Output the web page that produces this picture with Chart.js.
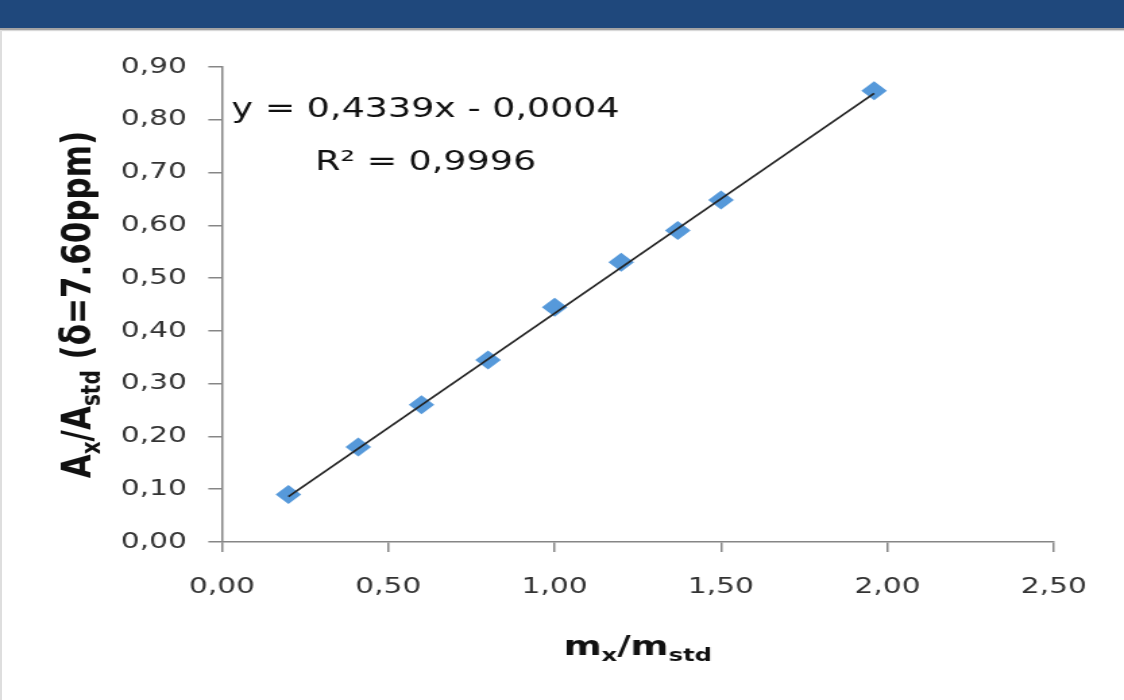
<!DOCTYPE html>
<html>
<head>
<meta charset="utf-8">
<script src="https://cdn.jsdelivr.net/npm/chart.js@4"></script>
<style>
  html, body { margin: 0; padding: 0; background: #fff; overflow: hidden; }
  body { width: 1124px; height: 700px; position: relative; }
  .header {
    position: absolute; left: 0; top: 0; width: 1124px; height: 28px;
    background: #1f487c; border-bottom: 2px solid #a4a4a4;
    box-shadow: 0 1px 1px #d8d8d8; z-index: 2;
  }
  .edge { position: absolute; left: 0; top: 30px; width: 2px; height: 670px; background: #dedede; z-index: 2; }
  /* the picture is stretched sideways, so the chart is drawn narrow and widened */
  .stretch {
    position: absolute; left: 0; top: 0; width: 833px; height: 700px;
    transform: scaleX(1.3493); transform-origin: 0 0;
  }
</style>
</head>
<body>
<div class="header"></div>
<div class="edge"></div>
<div class="stretch"><canvas id="calibChart"></canvas></div>

<script>
// m_x/m_std against A_x/A_std
const mRatio = [0.20, 0.41, 0.60, 0.80, 1.00, 1.20, 1.37, 1.50, 1.96];
const aRatio = [0.09, 0.18, 0.26, 0.345, 0.445, 0.53, 0.59, 0.648, 0.855];

// linear trend line ends
const trendX = [0.20, 1.96];
const trendY = [0.086, 0.850];

const xTickValues = [0, 0.5, 1, 1.5, 2, 2.5];
const xTickLabels = ["0,00", "0,50", "1,00", "1,50", "2,00", "2,50"];
const yTickValues = [0, 0.1, 0.2, 0.3, 0.4, 0.5, 0.6, 0.7, 0.8, 0.9];
const yTickLabels = ["0,00", "0,10", "0,20", "0,30", "0,40", "0,50", "0,60", "0,70", "0,80", "0,90"];

const xTitle = [{ t: "m" }, { t: "x", sub: true }, { t: "/m" }, { t: "std", sub: true }];
const yTitle = [{ t: "A" }, { t: "x", sub: true }, { t: "/A" }, { t: "std", sub: true }, { t: " (δ=7.60ppm)" }];
const equation = ["y = 0,4339x - 0,0004", "R² = 0,9996"];

const FONT = '"DejaVu Sans", Verdana, sans-serif';

function drawRich(ctx, parts, cx, baseY, size, weight) {
  const subSize = Math.round(size * 0.65);
  const fontOf = (p) => weight + " " + (p.sub ? subSize : size) + "px " + FONT;
  let w = 0;
  parts.forEach((p) => {
    ctx.font = fontOf(p);
    w += ctx.measureText(p.t).width;
  });
  let x = cx - w / 2;
  parts.forEach((p) => {
    ctx.font = fontOf(p);
    ctx.fillText(p.t, x, baseY + (p.sub ? size * 0.22 : 0));
    x += ctx.measureText(p.t).width;
  });
}

const labelsPlugin = {
  id: "labels",
  afterDraw(chart) {
    const ctx = chart.ctx;
    const area = chart.chartArea;
    ctx.save();
    ctx.fillStyle = "#111";
    ctx.textBaseline = "alphabetic";

    // axis titles
    drawRich(ctx, xTitle, (area.left + area.right) / 2, 655, 27, "bold");
    ctx.save();
    ctx.translate(66.7, (area.top + area.bottom) / 2);
    ctx.rotate(-Math.PI / 2);
    drawRich(ctx, yTitle, 0, 0, 31, "bold");
    ctx.restore();

    // trend line equation
    ctx.font = "27px " + FONT;
    ctx.textAlign = "center";
    ctx.fillText(equation[0], area.left + 151, area.top + 50);
    ctx.fillText(equation[1], area.left + 151, area.top + 103);
    ctx.restore();
  },
};

const axisColor = "#868686";

new Chart(document.getElementById("calibChart"), {
  type: "scatter",

  data: {
    datasets: [
      {
        label: "Trend",
        data: trendX.map((x, i) => ({ x: x, y: trendY[i] })),
        showLine: true,
        borderColor: "#222",
        borderWidth: 1.6,
        pointRadius: 0,
      },
      {
        label: "Ax/Astd",
        data: mRatio.map((x, i) => ({ x: x, y: aRatio[i] })),
        pointStyle: "rectRot",
        pointRadius: 9.5,
        pointBackgroundColor: "#5699da",
        pointBorderWidth: 0,
      },
    ],
  },

  options: {
    responsive: true,
    maintainAspectRatio: false,
    animation: false,
    events: [],

    layout: {
      padding: { top: 67, right: 52, bottom: 0, left: 0 },
    },

    plugins: {
      legend: { display: false },
      tooltip: { enabled: false },
    },

    scales: {
      x: {
        type: "linear",
        min: 0,
        max: 2.5,
        afterBuildTicks: (scale) => {
          scale.ticks = xTickValues.map((v) => ({ value: v }));
        },
        afterFit: (scale) => {
          scale.height = 158;
        },
        ticks: {
          callback: (value, index) => xTickLabels[index],
          font: { family: FONT, size: 22 },
          color: "#333",
          padding: 22,
          maxRotation: 0,
        },
        grid: { drawOnChartArea: false, tickLength: 10, color: axisColor, lineWidth: 1.5 },
        border: { color: axisColor, width: 1.5 },
      },

      y: {
        type: "linear",
        min: 0,
        max: 0.9,
        afterBuildTicks: (scale) => {
          scale.ticks = yTickValues.map((v) => ({ value: v }));
        },
        afterFit: (scale) => {
          scale.width = 164.4;
        },
        ticks: {
          callback: (value, index) => yTickLabels[index],
          font: { family: FONT, size: 22 },
          color: "#333",
          padding: 16,
        },
        grid: { drawOnChartArea: false, tickLength: 10, color: axisColor, lineWidth: 1.5 },
        border: { color: axisColor, width: 1.5 },
      },
    },
  },

  plugins: [labelsPlugin],
});
</script>
</body>
</html>
